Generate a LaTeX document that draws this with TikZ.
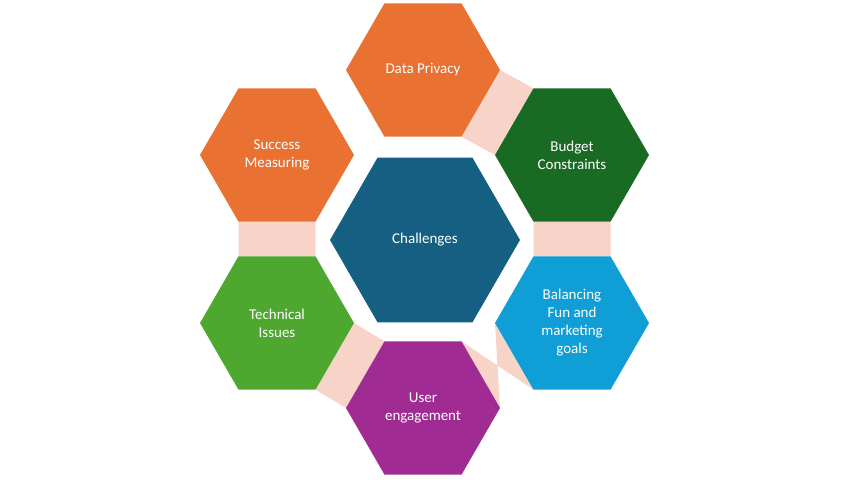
\documentclass[tikz,border=0pt]{standalone}
\usepackage{fontspec}
\setmainfont{Carlito}
\usetikzlibrary{shapes.geometric,backgrounds}
\definecolor{hexorange}{HTML}{E97132}
\definecolor{hexdkgreen}{HTML}{196B24}
\definecolor{hexblue}{HTML}{0F9ED5}
\definecolor{hexpurple}{HTML}{A02B93}
\definecolor{hexgreen}{HTML}{4EA72E}
\definecolor{hexcenter}{HTML}{156082}
\definecolor{linkpink}{HTML}{F7D3C8}
\tikzset{
	hexa/.style={regular polygon, regular polygon sides=6, inner sep=0pt, outer sep=0pt,
		minimum size=154pt, text=white, align=center, font=\fontsize{15}{18}\selectfont},
	link/.style={fill=linkpink}
}

\begin{document}
\begin{tikzpicture}[x=1pt,y=1pt]
	\useasboundingbox (0,0) rectangle (850,479);
	\node[hexa, fill=hexcenter, minimum size=190pt] (chal) at (425,239) {Challenges};
	\node[hexa, fill=hexorange] (priv) at (423,409) {Data Privacy};
	\node[hexa, fill=hexdkgreen] (budg) at (572,324) {Budget\\Constraints};
	\node[hexa, fill=hexblue] (bal) at (572,156) {Balancing\\Fun and\\marketing\\goals};
	\node[hexa, fill=hexpurple] (user) at (423,71) {User\\engagement};
	\node[hexa, fill=hexgreen] (tech) at (277,156) {Technical\\Issues};
	\node[hexa, fill=hexorange] (succ) at (277,324) {Success\\Measuring};

	% pink links between neighbours
	\begin{pgfonlayer}{background}
	\fill[link] (priv.0) -- (priv.300) -- (budg.180) -- (budg.120) -- cycle;
	\fill[link] (budg.240) -- (budg.300) -- (bal.60) -- (bal.120) -- cycle;
	\fill[link] (bal.180) -- (bal.240) -- (user.60) -- (user.0) -- cycle;
	\fill[link] (user.120) -- (user.180) -- (tech.300) -- (tech.0) -- cycle;
	\fill[link] (tech.60) -- (tech.120) -- (succ.240) -- (succ.300) -- cycle;
	\end{pgfonlayer}
\end{tikzpicture}
\end{document}
